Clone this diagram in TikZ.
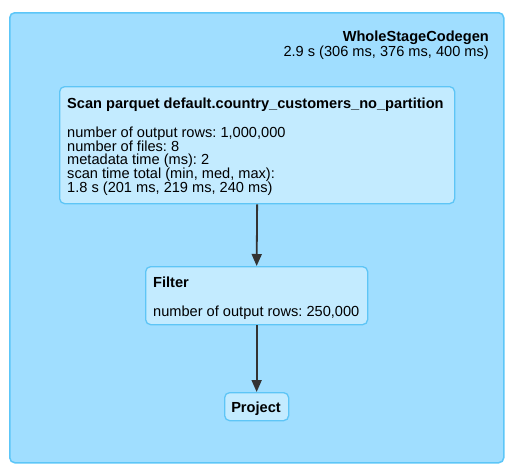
\documentclass[tikz,border=0pt]{standalone}
\usepackage{fontspec}
\setmainfont{Liberation Sans}
\usetikzlibrary{arrows.meta}
\definecolor{outerfill}{HTML}{A0DEFF}
\definecolor{outerline}{HTML}{5CC6F8}
\definecolor{innerfill}{HTML}{C3EBFF}
\definecolor{innerline}{HTML}{5EC5F6}
\definecolor{arrowcol}{HTML}{333333}
\frenchspacing
\begin{document}
\begin{tikzpicture}[x=1pt,y=-1pt,
  stagebox/.style={draw=outerline,fill=outerfill,line width=1.5pt,rounded corners=5pt,anchor=north west,inner sep=0pt},
  opbox/.style={draw=innerline,fill=innerfill,line width=1.3pt,rounded corners=5pt,anchor=north west,inner sep=0pt},
  txt/.style={inner sep=0pt,font=\fontsize{14.6}{15}\selectfont\frenchspacing,text=black},
  ttl/.style={txt,font=\fontsize{14.6}{15}\selectfont\bfseries\frenchspacing},
  arr/.style={draw=arrowcol,line width=1.8pt,-{Triangle[width=10pt,length=12pt]}}
]
\useasboundingbox (0,0) rectangle (512,474);
\node[stagebox,minimum width=494pt,minimum height=450pt] (stage) at (9,12) {};
\node[ttl,anchor=base east] (stitle) at (489,41) {WholeStageCodegen};
\node[txt,anchor=base east] (stime) at (489,56) {2.9 s (306 ms, 376 ms, 400 ms)};

\node[opbox,minimum width=395pt,minimum height=117pt] (scan) at (59,86) {};
\node[ttl,anchor=base west] (scantitle) at (67,108) {Scan parquet default.country\_customers\_no\_partition};
\node[txt,anchor=base west] (s1) at (67,137.5) {number of output rows: 1,000,000};
\node[txt,anchor=base west] (s2) at (67,151.2) {number of files: 8};
\node[txt,anchor=base west] (s3) at (67,164.9) {metadata time (ms): 2};
\node[txt,anchor=base west] (s4) at (67,178.6) {scan time total (min, med, max):};
\node[txt,anchor=base west] (s5) at (67,192.3) {1.8 s (201 ms, 219 ms, 240 ms)};

\node[opbox,minimum width=222pt,minimum height=58pt] (filter) at (145,266) {};
\node[ttl,anchor=base west] (filtertitle) at (153,287) {Filter};
\node[txt,anchor=base west] (f1) at (153,316) {number of output rows: 250,000};

\node[opbox,minimum width=64pt,minimum height=28pt] (project) at (224,392) {};
\node[ttl,anchor=base] (projecttitle) at (256,412) {Project};

\draw[arr] (scan.south) -- (filter.north);
\draw[arr] (filter.south) -- (project.north);
\end{tikzpicture}
\end{document}
